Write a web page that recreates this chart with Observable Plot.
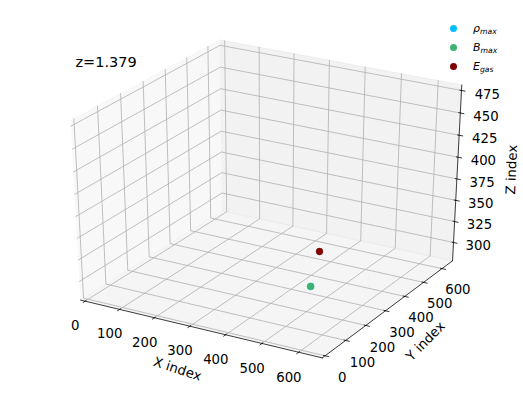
<!DOCTYPE html>
<html><head><meta charset="utf-8">
<script src="https://cdn.jsdelivr.net/npm/d3@7"></script>
<script src="https://cdn.jsdelivr.net/npm/@observablehq/plot@0.6"></script>
<style>
body{margin:0;background:#fff;}
#wrap{position:relative;width:523px;height:396px;font-family:"DejaVu Sans",sans-serif;}
#wrap svg{position:absolute;left:0;top:0;}
.lg-dot{position:absolute;border-radius:50%;}
.lg-txt{position:absolute;font-family:"DejaVu Sans";font-style:italic;font-size:11px;line-height:11px;white-space:nowrap;color:#000;}
.lg-txt sub{font-size:70%;vertical-align:-0.3em;line-height:0;}
</style></head>
<body><div id="wrap"></div>
<script>
// ---- data ----
const xLim = [0, 650];
const yLim = [0, 645];
const zLim = [282, 477];
const xTicks = [0, 100, 200, 300, 400, 500, 600];
const yTicks = [0, 100, 200, 300, 400, 500, 600];
const zTicks = [300, 325, 350, 375, 400, 425, 450, 475];
const seriesMain = ["ρ", "B", "E"];
const seriesSub = ["max", "max", "gas"];
const seriesColors = ["#00BFFF", "#3CB371", "#800000"];
const pointX = [489, 489, 505];
const pointY = [239, 239, 252];
const pointZ = [300, 300, 340];
const axisTitles = ["X index", "Y index", "Z index"];
const redshiftLabel = "z=1.379";
const elev = 30, azim = -60, dist = 10;

// ---- view (matplotlib-like 3D projection) ----
const W = 523, H = 396;
const viewLim = [-0.095, 0.09];
const frame = {left: 3.76, right: 520.1, top: 8.5, bottom: 387.75};
const rad = Math.PI / 180;
const n = [Math.cos(elev*rad)*Math.cos(azim*rad), Math.cos(elev*rad)*Math.sin(azim*rad), Math.sin(elev*rad)];
let u = [-n[1], n[0], 0];
const un = Math.hypot(...u); u = u.map(d => d/un);
const v = [n[1]*u[2]-n[2]*u[1], n[2]*u[0]-n[0]*u[2], n[0]*u[1]-n[1]*u[0]];
const dot3 = (a, b) => a[0]*b[0] + a[1]*b[1] + a[2]*b[2];
const padBox = l => { const p = (l[1]-l[0])/48; return [l[0]-p, l[1]+p]; };
const bx = padBox(xLim), by = padBox(yLim), bz = padBox(zLim);
const dX = (xLim[1]-xLim[0])/12, dY = (yLim[1]-yLim[0])/12, dZ = (zLim[1]-zLim[0])/12;
function P(X, Y, Z) {
  const q = [(X-bx[0])/(bx[1]-bx[0]) - 0.5, (Y-by[0])/(by[1]-by[0]) - 0.5, (Z-bz[0])/(bz[1]-bz[0]) - 0.5];
  const d = dist - dot3(n, q);
  return {px: dot3(u, q)/d, py: dot3(v, q)/d};
}
const dpp = 0.0744;
const Lt = (3.5 + 8) * dpp, La = (4 + 21) * dpp;

// panes
const paneDefs = [
  {id: "x", c: [[bx[0],by[0],bz[0]],[bx[0],by[1],bz[0]],[bx[0],by[1],bz[1]],[bx[0],by[0],bz[1]]], fill: "rgb(242,242,242)"},
  {id: "y", c: [[bx[0],by[1],bz[0]],[bx[1],by[1],bz[0]],[bx[1],by[1],bz[1]],[bx[0],by[1],bz[1]]], fill: "rgb(230,230,230)"},
  {id: "z", c: [[bx[0],by[0],bz[0]],[bx[1],by[0],bz[0]],[bx[1],by[1],bz[0]],[bx[0],by[1],bz[0]]], fill: "rgb(236,236,236)"}
];
const paneMarks = paneDefs.map(p => Plot.line(p.c.map(c => P(...c)), {x: "px", y: "py", fill: p.fill, fillOpacity: 0.5, stroke: p.fill, strokeOpacity: 0.5, strokeWidth: 1}));

// grid lines
const grid = [];
xTicks.forEach(t => [[t,by[0],bz[0]],[t,by[1],bz[0]],[t,by[1],bz[1]]].forEach(c => grid.push({id: "x"+t, ...P(...c)})));
yTicks.forEach(t => [[bx[0],t,bz[1]],[bx[0],t,bz[0]],[bx[1],t,bz[0]]].forEach(c => grid.push({id: "y"+t, ...P(...c)})));
zTicks.forEach(t => [[bx[1],by[1],t],[bx[0],by[1],t],[bx[0],by[0],t]].forEach(c => grid.push({id: "z"+t, ...P(...c)})));

// axis lines
const axes = [];
[[bx[0],by[0],bz[0]],[bx[1],by[0],bz[0]]].forEach(c => axes.push({id: "x", ...P(...c)}));
[[bx[1],by[1],bz[0]],[bx[1],by[0],bz[0]]].forEach(c => axes.push({id: "y", ...P(...c)}));
[[bx[1],by[1],bz[0]],[bx[1],by[1],bz[1]]].forEach(c => axes.push({id: "z", ...P(...c)}));

// ticks and labels
const ticks = [], tlabels = [];
function addTick(a, b, lab, t) {
  const A = P(...a), B = P(...b), L = P(...lab);
  ticks.push({x1: A.px, y1: A.py, x2: B.px, y2: B.py});
  tlabels.push({px: L.px, py: L.py, text: String(t)});
}
xTicks.forEach(t => addTick([t, by[0]+0.1*dY, bz[0]], [t, by[0]-0.2*dY, bz[0]], [t, by[0]-Lt*dY, bz[0]-Lt*dZ], t));
yTicks.forEach(t => addTick([bx[1]-0.1*dX, t, bz[0]], [bx[1]+0.2*dX, t, bz[0]], [bx[1]+Lt*dX, t, bz[0]-Lt*dZ], t));
zTicks.forEach(t => addTick([bx[1]-0.1*dX, by[1], t], [bx[1]+0.2*dX, by[1], t], [bx[1]+Lt*dX, by[1]+Lt*dY, t], t));

// axis titles
const cx = (xLim[0]+xLim[1])/2, cy = (yLim[0]+yLim[1])/2, cz = (zLim[0]+zLim[1])/2;
function angle(a, b) { const A = P(...a), B = P(...b); let ang = Math.atan2(B.py-A.py, B.px-A.px)/rad; if (ang > 90) ang -= 180; if (ang <= -90) ang += 180; return -ang; }
const titles = [
  {...P(cx, by[0]-La*dY, bz[0]-La*dZ), text: axisTitles[0], rot: angle([bx[0],by[0],bz[0]],[bx[1],by[0],bz[0]])},
  {...P(bx[1]+La*dX, cy, bz[0]-La*dZ), text: axisTitles[1], rot: angle([bx[1],by[0],bz[0]],[bx[1],by[1],bz[0]])},
  {...P(bx[1]+La*dX, by[1]+La*dY, cz), text: axisTitles[2], rot: angle([bx[1],by[1],bz[0]],[bx[1],by[1],bz[1]])}
];

// points
const pts = pointX.map((x, i) => ({...P(x, pointY[i], pointZ[i]), color: seriesColors[i]}));

const chart = Plot.plot({
  width: W, height: H,
  marginLeft: frame.left, marginRight: W - frame.right, marginTop: frame.top, marginBottom: H - frame.bottom,
  x: {domain: viewLim, axis: null},
  y: {domain: viewLim, axis: null},
  style: {fontFamily: "DejaVu Sans", background: "transparent", overflow: "visible"},
  marks: [
    ...paneMarks,
    Plot.line(grid, {x: "px", y: "py", z: "id", stroke: "#b0b0b0", strokeWidth: 0.8}),
    Plot.line(axes, {x: "px", y: "py", z: "id", stroke: "#000", strokeWidth: 0.75}),
    Plot.link(ticks, {x1: "x1", y1: "y1", x2: "x2", y2: "y2", stroke: "#000", strokeWidth: 0.8}),
    Plot.text(tlabels, {x: "px", y: "py", text: "text", textAnchor: "middle", lineAnchor: "top", fontSize: 13.3, fill: "#000", dy: 1}),
    Plot.text(titles, {x: "px", y: "py", text: "text", rotate: "rot", textAnchor: "middle", lineAnchor: "middle", fontSize: 13.3, fill: "#000"}),
    Plot.dot(pts, {x: "px", y: "py", r: 3.4, fill: "color", stroke: "color", strokeWidth: 0.5}),
    Plot.text([redshiftLabel], {frameAnchor: "top-left", text: d => d, textAnchor: "start", lineAnchor: "bottom", fontSize: 14.5, fill: "#000", dx: 71.2, dy: 58})
  ]
});
const wrap = document.getElementById("wrap");
wrap.appendChild(chart);

// legend
seriesMain.forEach((m, i) => {
  const cyc = 28.4 + i * 19.2;
  const d = document.createElement("div");
  d.className = "lg-dot";
  d.style.cssText = `left:${453.3-3.6}px;top:${cyc-3.6}px;width:7.2px;height:7.2px;background:${seriesColors[i]};`;
  wrap.appendChild(d);
  const t = document.createElement("div");
  t.className = "lg-txt";
  t.style.left = "473px";
  t.style.top = (cyc - 5.9) + "px";
  t.innerHTML = `${m}<sub>${seriesSub[i]}</sub>`;
  wrap.appendChild(t);
});
</script>
</body></html>
